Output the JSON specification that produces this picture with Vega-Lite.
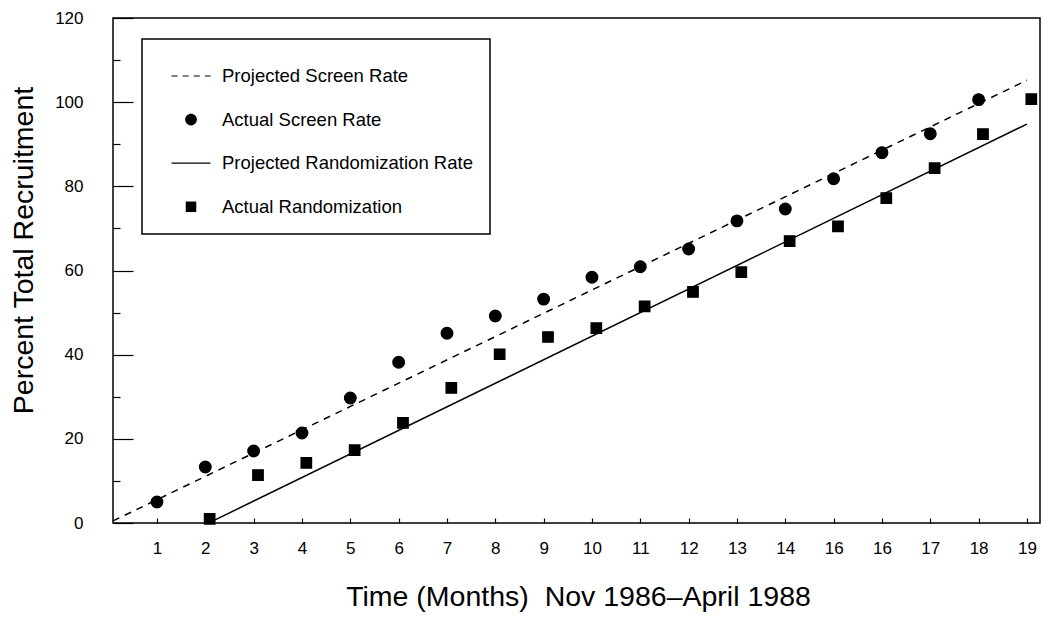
{
  "$schema": "https://vega.github.io/schema/vega-lite/v6.json",
  "width": 927,
  "height": 505,
  "autosize": {"type": "none"},
  "padding": {"left": 113, "top": 18, "right": 5, "bottom": 96},
  "background": "white",
  "config": {
    "font": "Liberation Sans",
    "view": {"stroke": "black", "strokeWidth": 1.5},
    "axis": {"domain": false, "grid": false, "labelColor": "black", "titleColor": "black", "tickColor": "black", "labelFontSize": 17, "titleFontWeight": "normal", "titleFontSize": 28.5, "tickWidth": 1.2},
    "legend": {"strokeWidth": 1.5}
  },
  "datasets": {
    "points": [
      {"series": "Actual Screen Rate", "month": 1, "pct": 5.0},
      {"series": "Actual Screen Rate", "month": 2, "pct": 13.3},
      {"series": "Actual Screen Rate", "month": 3, "pct": 17.1},
      {"series": "Actual Screen Rate", "month": 4, "pct": 21.4},
      {"series": "Actual Screen Rate", "month": 5, "pct": 29.7},
      {"series": "Actual Screen Rate", "month": 6, "pct": 38.2},
      {"series": "Actual Screen Rate", "month": 7, "pct": 45.1},
      {"series": "Actual Screen Rate", "month": 8, "pct": 49.2},
      {"series": "Actual Screen Rate", "month": 9, "pct": 53.2},
      {"series": "Actual Screen Rate", "month": 10, "pct": 58.4},
      {"series": "Actual Screen Rate", "month": 11, "pct": 60.9},
      {"series": "Actual Screen Rate", "month": 12, "pct": 65.1},
      {"series": "Actual Screen Rate", "month": 13, "pct": 71.8},
      {"series": "Actual Screen Rate", "month": 14, "pct": 74.6},
      {"series": "Actual Screen Rate", "month": 15, "pct": 81.8},
      {"series": "Actual Screen Rate", "month": 16, "pct": 88.0},
      {"series": "Actual Screen Rate", "month": 17, "pct": 92.5},
      {"series": "Actual Screen Rate", "month": 18, "pct": 100.6},
      {"series": "Actual Randomization", "month": 2.09, "pct": 1.0},
      {"series": "Actual Randomization", "month": 3.09, "pct": 11.4},
      {"series": "Actual Randomization", "month": 4.09, "pct": 14.3},
      {"series": "Actual Randomization", "month": 5.09, "pct": 17.3},
      {"series": "Actual Randomization", "month": 6.09, "pct": 23.8},
      {"series": "Actual Randomization", "month": 7.09, "pct": 32.1},
      {"series": "Actual Randomization", "month": 8.09, "pct": 40.1},
      {"series": "Actual Randomization", "month": 9.09, "pct": 44.2},
      {"series": "Actual Randomization", "month": 10.09, "pct": 46.3},
      {"series": "Actual Randomization", "month": 11.09, "pct": 51.5},
      {"series": "Actual Randomization", "month": 12.09, "pct": 54.9},
      {"series": "Actual Randomization", "month": 13.09, "pct": 59.6},
      {"series": "Actual Randomization", "month": 14.09, "pct": 67.0},
      {"series": "Actual Randomization", "month": 15.09, "pct": 70.5},
      {"series": "Actual Randomization", "month": 16.09, "pct": 77.2},
      {"series": "Actual Randomization", "month": 17.09, "pct": 84.3},
      {"series": "Actual Randomization", "month": 18.09, "pct": 92.4},
      {"series": "Actual Randomization", "month": 19.09, "pct": 100.7}
    ],
    "lines": [
      {"series": "Projected Screen Rate", "month": 0.09, "pct": 0.5},
      {"series": "Projected Screen Rate", "month": 19, "pct": 105.2},
      {"series": "Projected Randomization Rate", "month": 2.16, "pct": 0.5},
      {"series": "Projected Randomization Rate", "month": 19, "pct": 94.8}
    ]
  },
  "encoding": {
    "x": {
      "field": "month", "type": "quantitative",
      "scale": {"domain": [0.09, 19.27], "nice": false, "zero": false},
      "axis": {
        "values": [1,2,3,4,5,6,7,8,9,10,11,12,13,14,15,16,17,18,19],
        "labelExpr": "datum.value == 15 ? '16' : datum.label",
        "tickSize": -5,
        "labelPadding": 22,
        "title": "Time (Months)\u00a0 Nov 1986\u2013April 1988",
        "titleBaseline": "alphabetic",
        "titleAlign": "center",
        "titleX": 465,
        "titleY": 82
      }
    },
    "y": {
      "field": "pct", "type": "quantitative",
      "scale": {"domain": [0, 120], "nice": false},
      "axis": {
        "values": [0,10,20,30,40,50,60,70,80,90,100,110,120],
        "labelExpr": "datum.value % 20 == 0 ? datum.label : ''",
        "tickSize": {"condition": {"test": "datum.value % 20 == 0", "value": -20}, "value": -7},
        "labelPadding": 50,
        "title": "Percent Total Recruitment",
        "titleBaseline": "alphabetic",
        "titleAlign": "center",
        "titleAngle": -90,
        "titleX": -81,
        "titleY": 232
      }
    }
  },
  "layer": [
    {
      "data": {"name": "lines"},
      "transform": [{"filter": "datum.series == 'Projected Screen Rate'"}],
      "mark": {"type": "line", "color": "black", "strokeWidth": 1.5, "strokeDash": [7, 6]}
    },
    {
      "data": {"name": "lines"},
      "transform": [{"filter": "datum.series == 'Projected Randomization Rate'"}],
      "mark": {"type": "line", "color": "black", "strokeWidth": 1.5}
    },
    {
      "data": {"name": "points"},
      "mark": {"type": "point", "filled": true, "color": "black", "opacity": 1, "size": 1521, "stroke": "black", "strokeWidth": 1.2},
      "encoding": {
        "shape": {
          "field": "series", "type": "nominal",
          "scale": {
            "domain": ["Projected Screen Rate", "Actual Screen Rate", "Projected Randomization Rate", "Actual Randomization"],
            "range": [
              "M-1,-0.03H-0.69V0.03H-1ZM-0.43,-0.03H-0.12V0.03H-0.43ZM0.14,-0.03H0.45V0.03H0.14ZM0.71,-0.03H1V0.03H0.71Z",
              "M-0.3,0A0.3,0.3,0,1,0,0.3,0A0.3,0.3,0,1,0,-0.3,0Z",
              "M-1,-0.03H1V0.03H-1Z",
              "M-0.27,-0.27H0.27V0.27H-0.27Z"
            ]
          },
          "legend": {
            "title": null,
            "orient": "none",
            "legendX": 29,
            "legendY": 21,
            "padding": 17,
            "symbolOffset": 12,
            "symbolSize": 1521,
            "symbolFillColor": "black",
            "symbolStrokeColor": "black",
            "symbolStrokeWidth": 0.6,
            "symbolOpacity": 1,
            "labelFontSize": 18.5,
            "labelColor": "black",
            "labelOffset": 11,
            "labelLimit": 400,
            "rowPadding": 13.6,
            "strokeColor": "black",
            "fillColor": "white",
            "encode": {
              "symbols": {
                "update": {
                  "stroke": {"value": "black"},
                  "strokeWidth": {"value": 0.6},
                  "strokeOpacity": {"value": 1},
                  "fill": {"value": "black"},
                  "fillOpacity": {"value": 1},
                  "opacity": {"value": 1}
                }
              }
            }
          }
        }
      }
    }
  ]
}
